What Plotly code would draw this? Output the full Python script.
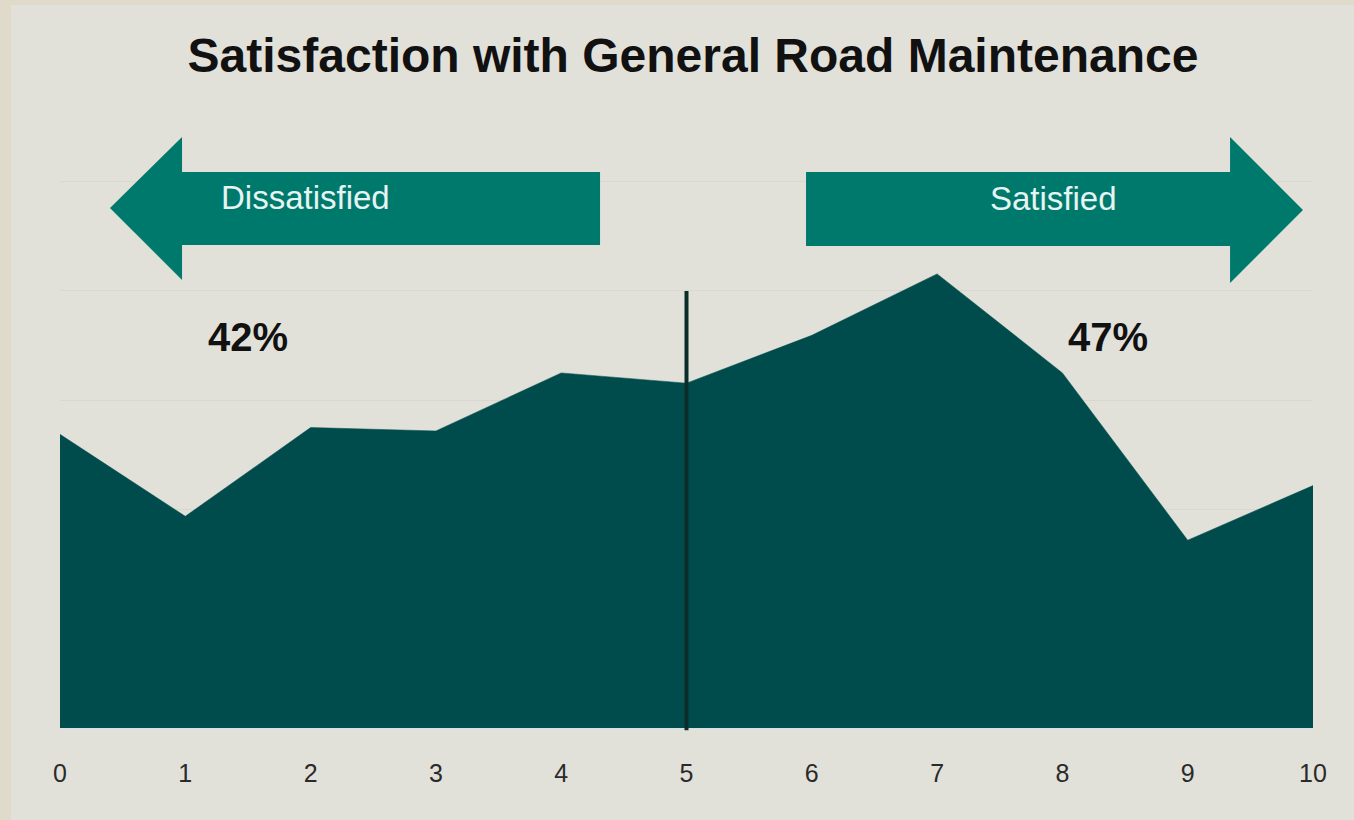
import plotly.graph_objects as go

scores = [0, 1, 2, 3, 4, 5, 6, 7, 8, 9, 10]
share_pct = [8.6, 6.2, 8.8, 8.7, 10.4, 10.1, 11.5, 13.3, 10.4, 5.5, 7.1]
tick_labels = ["0", "1", "2", "3", "4", "5", "6", "7", "8", "9", "10"]
group_labels = ["Dissatisfied", "Satisfied"]
group_pcts = ["42%", "47%"]
title_text = "Satisfaction with General Road Maintenance"

AREA = "#004C4D"
ARROW = "#00796D"
BG = "#E1E1DA"
BORDER = "#E0DACB"

fig = go.Figure()
fig.add_trace(go.Scatter(
    x=scores, y=share_pct, mode="lines", fill="tozeroy",
    fillcolor=AREA, line=dict(color=AREA, width=0.5),
    hoverinfo="x+y", showlegend=False,
))

shapes = []


def px(x):
    return (x - 60) / 1253


def py(y):
    return (728 - y) / 548


# outer border strips (left and top)
shapes.append(dict(type="rect", xref="paper", yref="paper", x0=px(-20), x1=px(11),
                   y0=py(830), y1=py(-10), fillcolor=BORDER, line_width=0, layer="above"))
shapes.append(dict(type="rect", xref="paper", yref="paper", x0=px(-20), x1=px(1370),
                   y0=py(5), y1=py(-10), fillcolor=BORDER, line_width=0, layer="above"))

# left arrow
left = [(110, 208), (182, 137), (182, 172), (600, 172), (600, 245), (182, 245), (182, 280)]
path = "M " + " L ".join(f"{px(a):.4f},{py(b):.4f}" for a, b in left) + " Z"
shapes.append(dict(type="path", xref="paper", yref="paper", path=path, fillcolor=ARROW, line_width=0, layer="above"))
# right arrow
right = [(1303, 210), (1230, 137), (1230, 172), (806, 172), (806, 246), (1230, 246), (1230, 283)]
path = "M " + " L ".join(f"{px(a):.4f},{py(b):.4f}" for a, b in right) + " Z"
shapes.append(dict(type="path", xref="paper", yref="paper", path=path, fillcolor=ARROW, line_width=0, layer="above"))
# neutral divider
shapes.append(dict(type="line", xref="x", yref="paper", x0=5, x1=5, y0=-0.004, y1=py(291),
                   line=dict(color="#0C2C2C", width=4), layer="above"))

FONT = "Liberation Sans, Arial, sans-serif"


def ann(x, y, text, size, color):
    return dict(x=px(x), y=py(y), xref="paper", yref="paper", text=text, showarrow=False,
                xanchor="center", yanchor="middle", font=dict(family=FONT, size=size, color=color))


annotations = [
    ann(305, 197, group_labels[0], 33, "#E6F4F2"),
    ann(1053, 198, group_labels[1], 33, "#E6F4F2"),
    ann(248, 337, "<b>" + group_pcts[0] + "</b>", 40, "#111111"),
    ann(1108, 337, "<b>" + group_pcts[1] + "</b>", 40, "#111111"),
]

fig.update_layout(
    width=1354, height=820,
    margin=dict(l=60, r=41, t=180, b=92),
    paper_bgcolor=BG, plot_bgcolor=BG,
    title=dict(text="<b>" + title_text + "</b>", x=px(693), xref="paper", xanchor="center",
               y=1 - 55 / 820, yanchor="middle",
               font=dict(family=FONT, size=48, color="#111111")),
    shapes=shapes, annotations=annotations,
    xaxis=dict(range=[0, 10], tickvals=scores, ticktext=tick_labels, showgrid=False,
               zeroline=False, showline=False, ticks="", ticklabelstandoff=28,
               tickfont=dict(family="Liberation Sans Narrow, Arial Narrow, Liberation Sans, Arial",
                             size=25, color="#2A2A2A")),
    yaxis=dict(range=[0, 16.05], dtick=3.2, showticklabels=False, showgrid=True,
               gridcolor="#D8D8D0", gridwidth=1, zeroline=True, zerolinecolor="#CFE3E3", zerolinewidth=1),
)

fig.write_html("out.html", config={"displayModeBar": False},
               post_script="document.body.style.margin='0';document.body.style.overflow='hidden';")
